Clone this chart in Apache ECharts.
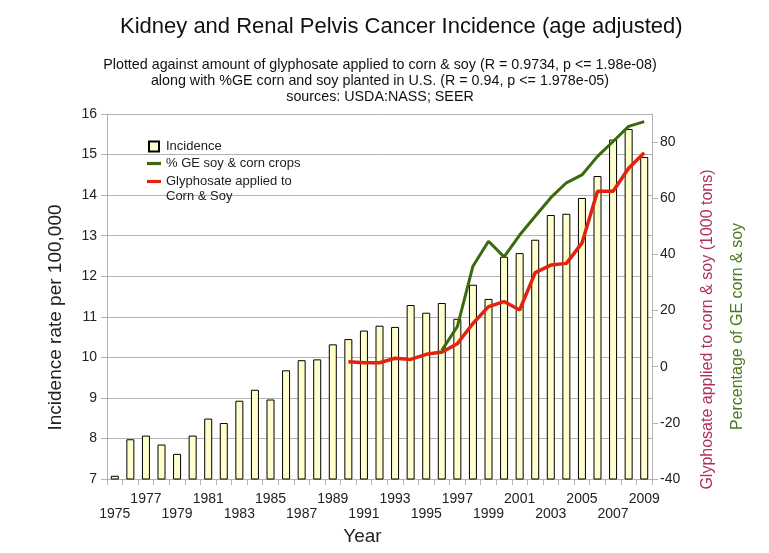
<!DOCTYPE html>
<html><head><meta charset="utf-8">
<script src="https://cdn.jsdelivr.net/npm/echarts@6/dist/echarts.min.js"></script>
<style>html,body{margin:0;padding:0;background:#fff}#c{width:769px;height:553px}</style>
</head><body><div id="c"></div>
<script>
const years = ['1975','1976','1977','1978','1979','1980','1981','1982','1983','1984','1985','1986','1987','1988','1989','1990','1991','1992','1993','1994','1995','1996','1997','1998','1999','2000','2001','2002','2003','2004','2005','2006','2007','2008','2009'];
const incidence = [7.08,7.98,8.07,7.85,7.62,8.07,8.49,8.38,8.93,9.20,8.96,9.68,9.93,9.95,10.32,10.45,10.66,10.78,10.75,11.29,11.10,11.34,10.95,11.79,11.44,12.48,12.57,12.90,13.51,13.54,13.93,14.47,15.37,15.63,14.94];
const glyphosate = [null,null,null,null,null,null,null,null,null,null,null,null,null,null,null,1.8,1.4,1.4,3.0,2.6,4.4,5.2,8.2,15.4,21.4,23.2,20.2,33.5,36.2,36.8,44.0,62.5,62.5,70.7,76.2];
const geCrops = [null,null,null,null,null,null,null,null,null,null,null,null,null,null,null,null,null,null,null,null,null,5.8,14.3,35.8,44.7,39.1,46.9,53.6,60.2,65.5,68.3,74.9,80.2,85.6,87.3];
const leftTicks = {min:7, max:16, interval:1};
const rightTicks = {min:-40, max:90, interval:20};

const FONT = 'Liberation Sans';
const GLY = 'Glyphosate applied to\nCorn & Soy';
const GE = '% GE soy & corn crops';
const INC = 'Incidence';
const axisGray = '#b3b3b3';
const txt = '#222222';
const lineIcon = 'path://M0,0 L14,0 L14,3.2 L0,3.2 Z';
const boxIcon = 'path://M0,0 L10,0 L10,10 L0,10 Z';

const chart = echarts.init(document.getElementById('c'), null, {renderer:'canvas'});
chart.setOption({
  backgroundColor:'#ffffff',
  animation:false,
  textStyle:{fontFamily:FONT},
  title:[
    {text:'Kidney and Renal Pelvis Cancer Incidence (age adjusted)', left:120, top:16, padding:0,
     textStyle:{fontFamily:FONT, fontSize:22, fontWeight:'normal', color:'#111', lineHeight:22}},
    {text:'Plotted against amount of glyphosate applied to corn & soy (R = 0.9734, p <= 1.98e-08)\nalong with %GE corn and soy planted in U.S. (R = 0.94, p <= 1.978e-05)\nsources: USDA:NASS; SEER',
     left:380, top:57, padding:0, textAlign:'center',
     textStyle:{fontFamily:FONT, fontSize:14.3, fontWeight:'normal', color:'#111', lineHeight:16}}
  ],
  legend:[
    {data:[{name:INC, icon:boxIcon}, {name:GE, icon:lineIcon}], orient:'vertical', left:147, top:139, padding:0,
     itemWidth:14, itemHeight:10, itemGap:2,
     textStyle:{fontFamily:FONT, fontSize:13, lineHeight:15, color:txt}},
    {data:[{name:GLY, icon:lineIcon}], orient:'vertical', left:147, top:159, padding:0,
     itemWidth:14, itemHeight:10, itemGap:2,
     formatter:function(n){ return '\n' + n; },
     textStyle:{fontFamily:FONT, fontSize:13, lineHeight:15, color:txt}}
  ],
  grid:{left:107, right:117, top:114, bottom:74, containLabel:false},
  xAxis:{
    type:'category', data:years, boundaryGap:true,
    name:'Year', nameLocation:'middle', nameGap:43,
    nameTextStyle:{fontFamily:FONT, fontSize:19, color:txt, padding:[0,34,0,0]},
    axisLine:{show:true, onZero:false, lineStyle:{color:axisGray}},
    axisTick:{show:true, interval:0, length:6, lineStyle:{color:axisGray}},
    axisLabel:{interval:1, margin:13, fontFamily:FONT, fontSize:14, lineHeight:15, color:txt,
      formatter:function(v, i){ return (i % 4 === 0) ? '\n' + v : v; }},
    splitLine:{show:false}
  },
  yAxis:[
    {type:'value', position:'left', min:leftTicks.min, max:leftTicks.max, interval:leftTicks.interval,
     name:'Incidence rate per 100,000', nameLocation:'middle', nameGap:42,
     nameTextStyle:{fontFamily:FONT, fontSize:19, color:txt, padding:[0,42,0,0]},
     axisLine:{show:true, lineStyle:{color:axisGray}},
     axisTick:{show:true, length:6, lineStyle:{color:axisGray}},
     axisLabel:{margin:10, fontFamily:FONT, fontSize:14, color:txt},
     splitLine:{show:true, lineStyle:{color:axisGray, width:1}}},
    {type:'value', position:'right', min:rightTicks.min, max:rightTicks.max, interval:rightTicks.interval,
     name:'Glyphosate applied to corn & soy (1000 tons)', nameLocation:'middle', nameGap:48,
     nameTextStyle:{fontFamily:FONT, fontSize:16, color:'#b0305c', padding:[0,66,0,0]},
     axisLine:{show:true, lineStyle:{color:axisGray}},
     axisTick:{show:true, length:6, lineStyle:{color:axisGray}},
     axisLabel:{margin:8, fontFamily:FONT, fontSize:14, color:txt, showMaxLabel:false},
     splitLine:{show:false}},
    {type:'value', position:'right', min:rightTicks.min, max:rightTicks.max, interval:rightTicks.interval,
     name:'Percentage of GE corn & soy', nameLocation:'middle', nameGap:78,
     nameTextStyle:{fontFamily:FONT, fontSize:16, color:'#4a7a1a', padding:[0,60,0,0]},
     axisLine:{show:false}, axisTick:{show:false}, axisLabel:{show:false}, splitLine:{show:false}}
  ],
  series:[
    {name:INC, type:'bar', data:incidence, yAxisIndex:0, barWidth:8,
     itemStyle:{color:'#ffffcc', borderColor:'#000000', borderWidth:1}},
    {name:GLY, type:'line', data:glyphosate, yAxisIndex:1, symbol:'none', showSymbol:false,
     itemStyle:{color:'#e4230e'}, lineStyle:{color:'#e4230e', width:3.5}, z:3},
    {name:GE, type:'line', data:geCrops, yAxisIndex:1, symbol:'none', showSymbol:false,
     itemStyle:{color:'#3a6a0c'}, lineStyle:{color:'#3a6a0c', width:3}, z:4}
  ]
});
</script>
</body></html>
